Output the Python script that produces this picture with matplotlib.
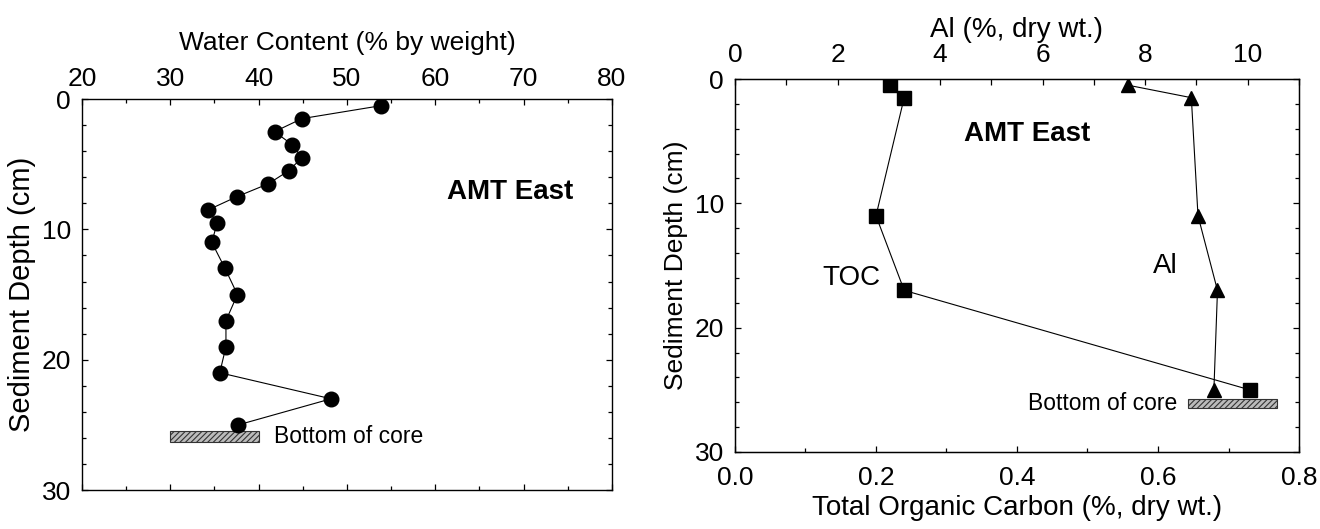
import numpy as np
import matplotlib.pyplot as plt
from matplotlib.ticker import MultipleLocator
from matplotlib.patches import Rectangle

plt.rcParams['font.family'] = ['Liberation Sans', 'DejaVu Sans']
plt.rcParams['hatch.color'] = '#444444'
plt.rcParams['hatch.linewidth'] = 0.8

# water content profile
wc_depth = [0.5, 1.5, 2.5, 3.5, 4.5, 5.5, 6.5, 7.5, 8.5, 9.5, 11, 13, 15, 17, 19, 21, 23, 25]
wc_value = [53.9, 44.9, 41.8, 43.8, 44.9, 43.4, 41.1, 37.5, 34.3, 35.3, 34.7, 36.2, 37.6, 36.3, 36.3, 35.6, 48.2, 37.7]

# TOC and Al profiles
toc_depth = [0.5, 1.5, 11, 17, 25]
toc_value = [0.22, 0.24, 0.20, 0.24, 0.73]
al_depth = [0.5, 1.5, 11, 17, 25]
al_value = [7.67, 8.90, 9.03, 9.41, 9.34]

# core bottom bars (x range, depth range)
core_wc = (30, 40, 25.5, 26.3)
core_toc = (0.643, 0.769, 25.7, 26.5)

fig = plt.figure(figsize=(13.2, 5.29), dpi=100)


def style(ax, size):
    ax.tick_params(which='both', direction='in', top=True, bottom=True, left=True, right=True,
                   labelsize=size, width=0.9, pad=8)
    ax.tick_params(which='major', length=4.5)
    ax.tick_params(which='minor', length=3)
    for s in ax.spines.values():
        s.set_linewidth(1.0)


# ---- left panel: water content
ax1 = fig.add_axes([0.0621, 0.0737, 0.4015, 0.739])
ax1.plot(wc_value, wc_depth, '-', color='black', lw=0.8, marker='o', ms=10.5)
ax1.set_xlim(20, 80)
ax1.set_ylim(30, 0)
ax1.xaxis.set_major_locator(MultipleLocator(10))
ax1.xaxis.set_minor_locator(MultipleLocator(5))
ax1.yaxis.set_major_locator(MultipleLocator(10))
ax1.yaxis.set_minor_locator(MultipleLocator(2))
style(ax1, 19)
ax1.tick_params(labeltop=True, labelbottom=False)
ax1.tick_params(axis='x', pad=6)
ax1.xaxis.set_label_position('top')
ax1.set_xlabel('Water Content (% by weight)', fontsize=19, labelpad=12)
ax1.set_ylabel('Sediment Depth (cm)', fontsize=21, labelpad=4)
ax1.add_patch(Rectangle((core_wc[0], core_wc[2]), core_wc[1] - core_wc[0], core_wc[3] - core_wc[2],
                        facecolor='#bbbbbb', edgecolor='#333333', hatch='//////', lw=0.8))
ax1.text(41.7, 25.9, 'Bottom of core', fontsize=16.5, va='center', ha='left')
ax1.text(68.5, 7.1, 'AMT East', fontsize=20, fontweight='bold', ha='center', va='center')

# ---- right panel: TOC (bottom) and Al (top)
ax2 = fig.add_axes([0.5568, 0.1456, 0.4273, 0.705])
ax2.plot(toc_value, toc_depth, '-', color='black', lw=0.8, marker='s', ms=9.5)
ax2.set_xlim(0, 0.8)
ax2.set_ylim(30, 0)
ax2.xaxis.set_major_locator(MultipleLocator(0.2))
ax2.xaxis.set_minor_locator(MultipleLocator(0.1))
ax2.yaxis.set_major_locator(MultipleLocator(10))
ax2.yaxis.set_minor_locator(MultipleLocator(2))
style(ax2, 19)
ax2.tick_params(top=False, which='both')
ax2.tick_params(axis='x', pad=10)
ax2.xaxis.set_major_formatter(plt.FormatStrFormatter('%.1f'))
ax2.set_xlabel('Total Organic Carbon (%, dry wt.)', fontsize=20, labelpad=4)
ax2.set_ylabel('Sediment Depth (cm)', fontsize=19, labelpad=5)
ax2.add_patch(Rectangle((core_toc[0], core_toc[2]), core_toc[1] - core_toc[0], core_toc[3] - core_toc[2],
                        facecolor='#bbbbbb', edgecolor='#333333', hatch='//////', lw=0.8))
ax2.text(0.627, 26.1, 'Bottom of core', fontsize=16.5, va='center', ha='right')
ax2.text(0.415, 4.4, 'AMT East', fontsize=20, fontweight='bold', ha='center', va='center')
ax2.text(0.165, 16.0, 'TOC', fontsize=20, ha='center', va='center')
ax2.text(0.61, 15.0, 'Al', fontsize=20, ha='center', va='center')

ax3 = ax2.twiny()
ax3.plot(al_value, al_depth, '-', color='black', lw=0.8, marker='^', ms=10)
ax3.set_xlim(0, 11)
ax3.xaxis.set_major_locator(MultipleLocator(2))
ax3.xaxis.set_minor_locator(MultipleLocator(1))
ax3.tick_params(which='both', direction='in', labelsize=19, width=0.9, pad=9)
ax3.tick_params(which='major', length=4.5)
ax3.tick_params(which='minor', length=4.5)
ax3.set_xlabel('Al (%, dry wt.)', fontsize=20, labelpad=4)

fig.savefig('out.png', dpi=100)
